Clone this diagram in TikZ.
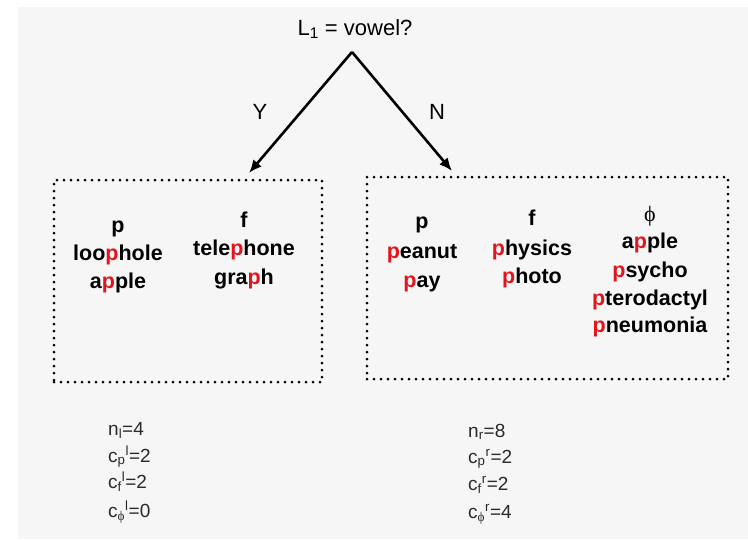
\documentclass[tikz,border=0pt]{standalone}
\usepackage{fontspec}
\setmainfont{Liberation Sans}
\newfontfamily\greekfont{Liberation Serif}
\usepackage{xcolor}
\usepackage{tikz}
\usetikzlibrary{arrows.meta}

\definecolor{pred}{HTML}{E3141B}
\definecolor{paper}{HTML}{F6F6F6}
\definecolor{statgray}{HTML}{2A2A2A}
\newcommand{\rp}{\textcolor{pred}{p}}
\newcommand{\sil}{{\greekfont ϕ}}
\newcommand{\cnt}[3]{c\textsubscript{#1}\textsuperscript{#2}=#3}

\tikzset{
  word/.style={font=\bfseries\fontsize{21.5}{26}\selectfont, inner sep=0pt, anchor=base},
  stat/.style={font=\fontsize{19}{22}\selectfont, text=statgray, inner sep=0pt, anchor=base west},
  label/.style={font=\fontsize{22}{26}\selectfont, inner sep=0pt},
  dotbox/.style={draw, line width=3pt, line cap=round, dash pattern=on 0pt off 7pt},
  branch/.style={line width=2.6pt, -{Latex[length=13pt, width=11pt]}}
}

\begin{document}
\begin{tikzpicture}[x=1pt, y=-1pt]
\useasboundingbox (0,0) rectangle (748,539);
\fill[paper] (18,7) rectangle (748,539);
% question and its two branches
\node[label, anchor=base] (root) at (355,35) {L\textsubscript{1} = vowel?};
\coordinate (apex) at (352,52);
\coordinate (ytip) at (249,173);
\coordinate (ntip) at (452,171);
\draw[branch] (apex) -- (ytip);
\draw[branch] (apex) -- (ntip);
\node[label] (yes) at (260,112) {Y};
\node[label] (no) at (437,112) {N};
% the two groups
\node[dotbox, minimum width=268pt, minimum height=202pt] (lbox) at (188,281) {};
\node[dotbox, minimum width=361pt, minimum height=202pt] (rbox) at (547.5,278) {};
% left group: p column
\node[word] (lp) at (118,232) {p};
\node[word] (lp1) at (118,260) {loo\rp hole};
\node[word] (lp2) at (118,288) {a\rp ple};
% left group: f column
\node[word] (lf) at (244,227) {f};
\node[word] (lf1) at (244,255) {tele\rp hone};
\node[word] (lf2) at (244,284) {gra\rp h};
% right group: p column
\node[word] (rp) at (422,228) {p};
\node[word] (rp1) at (422,258) {\rp eanut};
\node[word] (rp2) at (422,287) {\rp ay};
% right group: f column
\node[word] (rf) at (532,225) {f};
\node[word] (rf1) at (532,255) {\rp hysics};
\node[word] (rf2) at (532,283) {\rp hoto};
% right group: silent column
\node[word, font=\mdseries\fontsize{22}{26}\selectfont] (rs) at (650,221) {\sil};
\node[word] (rs1) at (650,248) {a\rp ple};
\node[word] (rs2) at (650,277) {\rp sycho};
\node[word] (rs3) at (650,305) {\rp terodactyl};
\node[word] (rs4) at (650,332) {\rp neumonia};
% counts
\node[stat] (ln) at (108,435) {n\textsubscript{l}=4};
\node[stat] (lcp) at (108,462) {\cnt{p}{l}{2}};
\node[stat] (lcf) at (108,488) {\cnt{f}{l}{2}};
\node[stat] (lcs) at (108,517) {\cnt{\sil}{l}{0}};
\node[stat] (rn) at (468,437) {n\textsubscript{r}=8};
\node[stat] (rcp) at (468,463) {\cnt{p}{r}{2}};
\node[stat] (rcf) at (468,490) {\cnt{f}{r}{2}};
\node[stat] (rcs) at (468,518) {\cnt{\sil}{r}{4}};
\end{tikzpicture}
\end{document}
